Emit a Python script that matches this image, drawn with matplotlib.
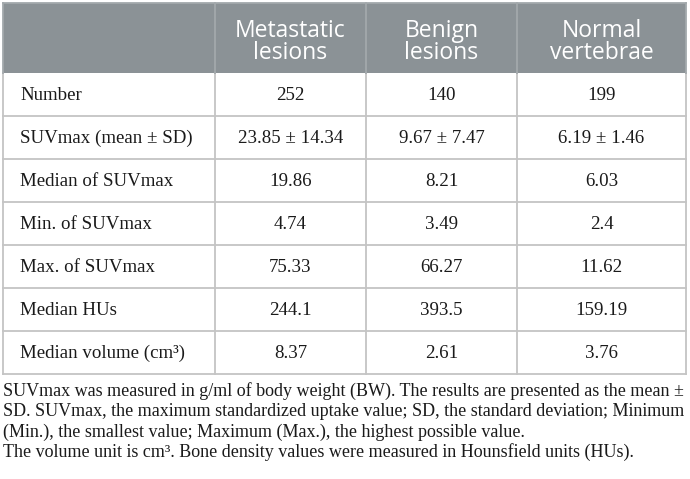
import matplotlib.pyplot as plt
from matplotlib.patches import Rectangle

# table content
headers = ["Metastatic\nlesions", "Benign\nlesions", "Normal\nvertebrae"]
row_labels = ["Number", "SUVmax (mean ± SD)", "Median of SUVmax", "Min. of SUVmax",
              "Max. of SUVmax", "Median HUs", "Median volume (cm³)"]
metastatic = ["252", "23.85 ± 14.34", "19.86", "4.74", "75.33", "244.1", "8.37"]
benign = ["140", "9.67 ± 7.47", "8.21", "3.49", "66.27", "393.5", "2.61"]
normal = ["199", "6.19 ± 1.46", "6.03", "2.4", "11.62", "159.19", "3.76"]
footnotes = [
    "SUVmax was measured in g/ml of body weight (BW). The results are presented as the mean ±",
    "SD. SUVmax, the maximum standardized uptake value; SD, the standard deviation; Minimum",
    "(Min.), the smallest value; Maximum (Max.), the highest possible value.",
    "The volume unit is cm³. Bone density values were measured in Hounsfield units (HUs).",
]

# layout (pixels)
col_x = [3, 215, 366, 517, 686]
head_top, head_bot = 3, 73
row_h = 43
grid_col = "#c4c4c4"
head_col = "#8b9296"

fig = plt.figure(figsize=(6.9, 4.79), dpi=100)
ax = fig.add_axes([0, 0, 1, 1])
ax.set_xlim(0, 690)
ax.set_ylim(479, 0)
ax.axis("off")

n = len(row_labels)
bottom = head_bot + n * row_h

# header background
ax.add_patch(Rectangle((col_x[0], head_top), col_x[-1] - col_x[0], head_bot - head_top,
                       facecolor=head_col, edgecolor="none"))

# grid lines
for i in range(1, n + 1):
    y = head_bot + i * row_h
    ax.plot([col_x[0], col_x[-1]], [y, y], color=grid_col, lw=1.3)
for x in col_x:
    ax.plot([x, x], [head_bot, bottom], color=grid_col, lw=1.3)
    ax.plot([x, x], [head_top, head_bot], color="#a3a9ac", lw=1.3)
ax.plot([col_x[0], col_x[-1]], [head_top, head_top], color="#a3a9ac", lw=1.3)

# header text
for j, h in enumerate(headers):
    cx = (col_x[j + 1] + col_x[j + 2]) / 2
    ax.text(cx, (head_top + head_bot) / 2 + 4, h, ha="center", va="center", color="white",
            fontsize=16.5, family="Open Sans", linespacing=0.88)

# body
serif = ["Liberation Serif", "DejaVu Serif"]
cols = [metastatic, benign, normal]
for i, lab in enumerate(row_labels):
    cy = head_bot + i * row_h + row_h / 2 + 1
    ax.text(20, cy, lab, ha="left", va="center", fontsize=13.6, family=serif, color="#1a1a1a")
    for j, col in enumerate(cols):
        cx = (col_x[j + 1] + col_x[j + 2]) / 2
        ax.text(cx, cy, col[i], ha="center", va="center", fontsize=13.6, family=serif,
                color="#1a1a1a")

# footnotes
for k, line in enumerate(footnotes):
    ax.text(3, 391 + k * 20.5, line, ha="left", va="center", fontsize=13, family=serif,
            color="#1a1a1a")

fig.savefig("out.png", dpi=100)
